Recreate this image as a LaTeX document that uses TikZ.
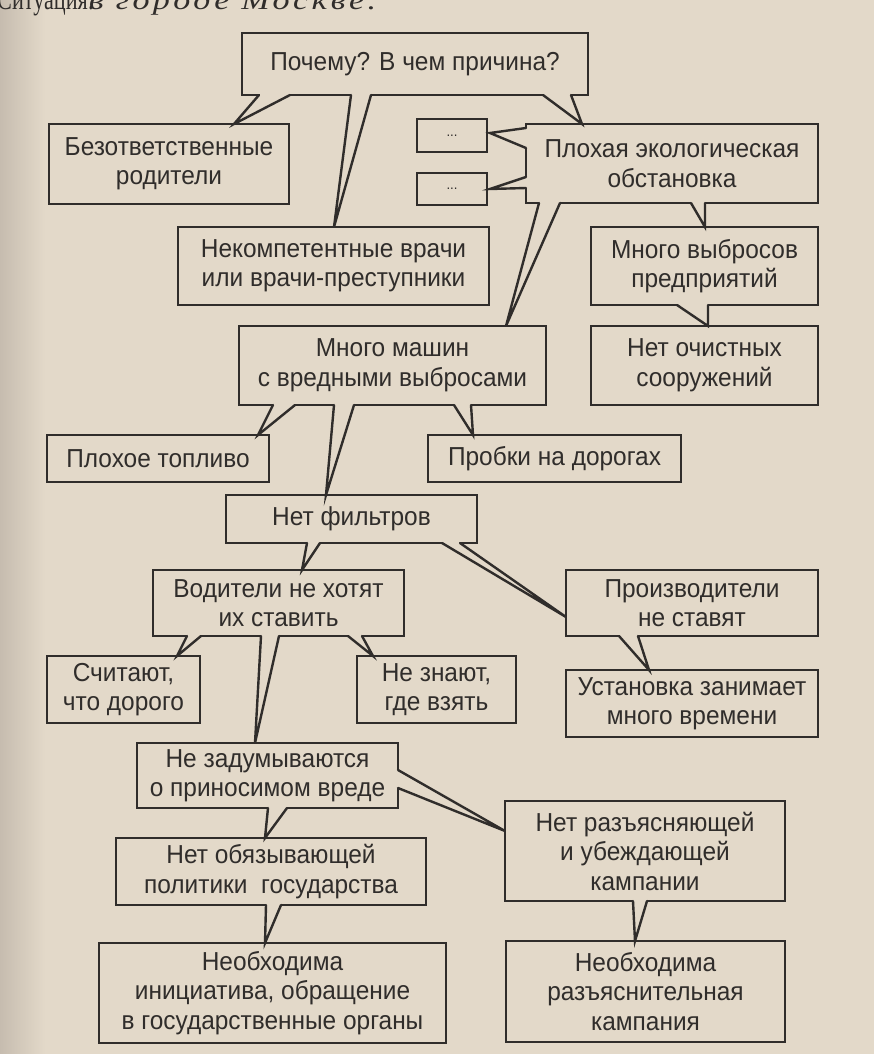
\documentclass[tikz,border=0pt]{standalone}
\usepackage{fontspec}
\setmainfont{Liberation Sans}[FakeStretch=0.94]
\newfontfamily\serifcyr{Liberation Serif}
\newfontfamily\serifit{Liberation Serif Italic}[LetterSpace=10]
\usetikzlibrary{calc}
\definecolor{paper}{RGB}{227,217,201}
\definecolor{shadowc}{RGB}{198,188,175}
\definecolor{ink}{RGB}{48,45,43}
\tikzset{
  box/.style={draw=ink, fill=paper, line width=2.4pt, align=center, inner sep=0pt,
    outer sep=0pt, text=ink, font=\fontsize{26}{29.5}\selectfont},
  tailline/.style={draw=ink, line width=2.4pt, line cap=round, line join=miter},
  erase/.style={draw=paper, line width=3.8pt},
  head/.style={anchor=base west, inner sep=0pt, text=ink}
}
\newcommand\bx[6]{\node[box, minimum width={(#4)-(#2)}, minimum height={(#5)-(#3)}] (#1) at ({((#2)+(#4))/2},{((#3)+(#5))/2}) {#6};}
\newcommand\tl[3]{\fill[paper] #1 -- #3 -- #2 -- cycle; \path[erase] #1 -- #2; \path[tailline] #1 -- #3 -- #2;}
\begin{document}
\begin{tikzpicture}[x=1pt, y=-1pt]
\useasboundingbox (0,0) rectangle (874,1054);
\fill[paper] (0,0) rectangle (874,1054);
\shade[left color=shadowc, right color=paper] (0,0) rectangle (45,1054);
\node[head, font=\serifcyr\fontsize{30}{30}\selectfont] (sit1) at (-3,10) {\scalebox{0.74}[1]{Ситуация:}};
\node[head, font=\serifit\fontsize{27}{27}\selectfont] (sit2) at (89,10) {\scalebox{1.26}[1]{в городе Москве.}};
% boxes
\bx{q}{242}{33}{588}{95}{Почему? В чем причина?}
\bx{bez}{49}{124}{289}{204}{Безответственные\\родители}
\bx{d1}{417}{119}{487}{152}{\fontsize{14}{14}\selectfont...}
\bx{d2}{417}{173}{487}{205}{\fontsize{14}{14}\selectfont...}
\bx{eco}{526}{124}{818}{203}{Плохая экологическая\\обстановка}
\bx{vr}{178}{227}{489}{305}{Некомпетентные врачи\\или врачи-преступники}
\bx{vyb}{591}{227}{818}{305}{Много выбросов\\предприятий}
\bx{och}{591}{326}{818}{405}{Нет очистных\\сооружений}
\bx{mash}{239}{326}{546}{405}{Много машин\\с вредными выбросами}
\bx{topl}{47}{435}{269}{482}{Плохое топливо}
\bx{prob}{428}{435}{681}{482}{Пробки на дорогах}
\bx{filt}{226}{495}{477}{543}{Нет фильтров}
\bx{vod}{153}{570}{404}{636}{Водители не хотят\\их ставить}
\bx{proizv}{566}{570}{818}{636}{Производители\\не ставят}
\bx{dor}{47}{656}{200}{723}{Считают,\\что дорого}
\bx{gde}{357}{656}{516}{723}{Не знают,\\где взять}
\bx{ust}{566}{670}{818}{737}{Установка занимает\\много времени}
\bx{zad}{137}{743}{398}{808}{Не задумываются\\о приносимом вреде}
\bx{raz}{505}{801}{785}{901}{Нет разъясняющей\\и убеждающей\\кампании}
\bx{pol}{116}{838}{426}{905}{Нет обязывающей\\политики\ \ государства}
\bx{init}{99}{943}{446}{1043}{Необходима\\инициатива, обращение\\в государственные органы}
\bx{razk}{506}{941}{785}{1042}{Необходима\\разъяснительная\\кампания}
% tails
\tl{(q.south -| 259,0)}{(q.south -| 290,0)}{(bez.north -| 234,0)}
\tl{(q.south -| 351,0)}{(q.south -| 371,0)}{(vr.north -| 334,0)}
\tl{(q.south -| 543,0)}{(q.south -| 571,0)}{(eco.north -| 582,0)}
\tl{(eco.west |- 0,128)}{(eco.west |- 0,148)}{($(d1.east |- 0,133)+(3,0)$)}
\tl{(eco.west |- 0,177)}{(eco.west |- 0,188)}{($(d2.east |- 0,189)+(3,0)$)}
\tl{(eco.south -| 539,0)}{(eco.south -| 560,0)}{(mash.north -| 506,0)}
\tl{(eco.south -| 691,0)}{(eco.south -| 705,0)}{(vyb.north -| 705,0)}
\tl{(vyb.south -| 677,0)}{(vyb.south -| 708,0)}{(och.north -| 708,0)}
\tl{(mash.south -| 273,0)}{(mash.south -| 295,0)}{(topl.north -| 258,0)}
\tl{(mash.south -| 334,0)}{(mash.south -| 354,0)}{(filt.north -| 326,0)}
\tl{(mash.south -| 454,0)}{(mash.south -| 471,0)}{(prob.north -| 473,0)}
\tl{(filt.south -| 307,0)}{(filt.south -| 320,0)}{(vod.north -| 302,0)}
\tl{(filt.south -| 442,0)}{(filt.south -| 460,0)}{(proizv.west |- 0,617)}
\tl{(vod.south -| 187,0)}{(vod.south -| 201,0)}{(dor.north -| 177,0)}
\tl{(vod.south -| 261,0)}{(vod.south -| 279,0)}{(zad.north -| 255,0)}
\tl{(vod.south -| 348,0)}{(vod.south -| 362,0)}{(gde.north -| 373,0)}
\tl{(proizv.south -| 619,0)}{(proizv.south -| 638,0)}{(ust.north -| 649,0)}
\tl{(zad.south -| 268,0)}{(zad.south -| 287,0)}{(pol.north -| 265,0)}
\tl{(zad.east |- 0,770)}{(zad.east |- 0,788)}{(raz.west |- 0,831)}
\tl{(pol.south -| 266,0)}{(pol.south -| 281,0)}{(init.north -| 265,0)}
\tl{(raz.south -| 633,0)}{(raz.south -| 647,0)}{(razk.north -| 635,0)}
\end{tikzpicture}
\end{document}
